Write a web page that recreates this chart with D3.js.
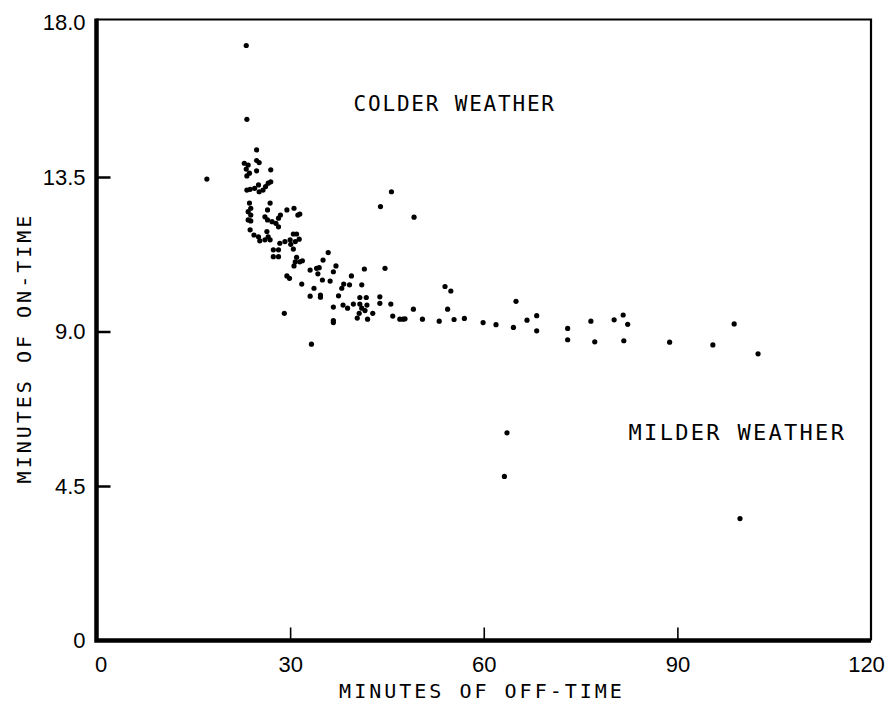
<!DOCTYPE html>
<html>
<head>
<meta charset="utf-8">
<script src="https://cdn.jsdelivr.net/npm/d3@7"></script>
<style>
  body { margin: 0; background: #fff; }
  svg { display: block; }
</style>
</head>
<body>
<script>
// minutes of off-time (x) and on-time (y)
var offTime = [
  17.1, 23.2, 23.3, 24.8, 22.9, 23.5, 24.8, 25.2, 23.2, 24.8,
  27.0, 23.7, 23.3, 23.3, 23.8, 24.5, 25.1, 25.8, 26.2, 26.6,
  27.0, 25.2, 23.7, 23.9, 23.5, 23.9, 23.5, 23.9, 26.9, 26.5,
  26.1, 26.5, 27.2, 28.2, 28.5, 29.5, 30.6, 31.5, 31.2, 27.8,
  28.2, 23.8, 24.4, 25.1, 25.3, 26.4, 26.6, 26.1, 26.9, 28.4,
  29.2, 30.0, 30.5, 31.0, 31.4, 30.1, 30.8, 30.5, 27.4, 28.2,
  27.4, 28.2, 31.0, 30.8, 31.5, 30.6, 31.9, 35.9, 35.1, 29.5,
  29.9, 31.8, 33.1, 34.1, 34.5, 34.3, 33.7, 35.0, 36.2, 37.1,
  36.7, 33.1, 34.7, 34.7, 37.5, 38.0, 38.3, 39.2, 39.5, 41.5,
  41.1, 36.7, 36.7, 36.7, 38.2, 38.9, 39.8, 40.8, 41.8, 40.8,
  41.9, 41.1, 40.7, 41.6, 42.8, 40.4, 42.0, 43.9, 43.9, 29.1,
  33.3, 44.7, 45.6, 45.9, 47.0, 47.5, 47.8, 49.1, 50.5, 53.1,
  54.0, 54.9, 54.4, 55.4, 57.0, 59.9, 61.9, 64.6, 65.0, 66.7,
  68.2, 68.2, 73.0, 73.0, 76.6, 77.2, 80.2, 81.6, 82.3, 81.7,
  88.8, 95.5, 98.8, 102.5, 99.7, 63.6, 63.2, 44.0, 45.7, 49.2
];
var onTime = [
  13.44, 17.33, 15.18, 14.29, 13.90, 13.85, 13.98, 13.92, 13.73, 13.68,
  13.71, 13.61, 13.53, 13.12, 13.14, 13.17, 13.27, 13.12, 13.22, 13.32,
  13.36, 13.07, 12.74, 12.59, 12.49, 12.39, 12.25, 12.22, 12.74, 12.54,
  12.34, 12.25, 12.20, 12.30, 12.39, 12.54, 12.59, 12.42, 12.39, 12.15,
  12.05, 11.96, 11.81, 11.76, 11.64, 11.91, 11.76, 11.67, 11.67, 11.57,
  11.62, 11.67, 11.84, 11.84, 11.69, 11.54, 11.62, 11.40, 11.38, 11.38,
  11.18, 11.18, 11.16, 11.03, 11.03, 10.91, 11.06, 11.30, 11.08, 10.62,
  10.55, 10.38, 10.79, 10.84, 10.86, 10.68, 10.26, 10.50, 10.47, 10.91,
  10.74, 10.03, 10.06, 10.00, 10.04, 10.26, 10.38, 10.36, 10.62, 10.82,
  10.36, 9.71, 9.32, 9.26, 9.77, 9.68, 9.80, 9.99, 9.99, 9.80,
  9.77, 9.68, 9.53, 9.61, 9.53, 9.39, 9.36, 10.01, 9.82, 9.53,
  8.63, 10.84, 9.80, 9.45, 9.36, 9.36, 9.37, 9.65, 9.36, 9.30,
  10.31, 10.18, 9.65, 9.35, 9.38, 9.26, 9.20, 9.12, 9.88, 9.33,
  9.46, 9.02, 9.09, 8.76, 9.30, 8.70, 9.34, 9.48, 9.21, 8.73,
  8.69, 8.61, 9.22, 8.35, 3.55, 6.05, 4.78, 12.64, 13.07, 12.33
];

var xTicks = [0, 30, 60, 90, 120];
var yTicks = [0, 4.5, 9, 13.5, 18];
var yTickLabels = ["0", "4.5", "9.0", "13.5", "18.0"];
var noteText = ["COLDER WEATHER", "MILDER WEATHER"];
var noteX = [55.5, 99.3];
var noteY = [15.65, 6.08];

const width = 895;
const height = 716;

const svg = d3.select("body")
  .append("svg")
  .attr("width", width)
  .attr("height", height);

const x = d3.scaleLinear().domain([0, 120]).range([96.5, 871]);
const y = d3.scaleLinear().domain([0, 18]).range([640.5, 22.5]);

const mono = "'DejaVu Sans Mono', 'Liberation Mono', monospace";
const sans = "'Liberation Sans', 'DejaVu Sans', sans-serif";

// thin top and right border
svg.append("path")
  .attr("d", "M" + x(0) + "," + (y(18) - 3) + "H" + x(120) + "V" + y(0))
  .attr("fill", "none")
  .attr("stroke", "#000")
  .attr("stroke-width", 2.2);

// y axis
const yAxis = svg.append("g")
  .attr("transform", "translate(" + x(0) + ",0)")
  .call(d3.axisLeft(y)
    .tickValues(yTicks)
    .tickSize(-14)
    .tickPadding(11)
    .tickFormat(function(d, i) { return yTickLabels[i]; }));
yAxis.select(".domain").remove();
yAxis.selectAll(".tick line")
  .attr("stroke-width", 2.5)
  .attr("display", function(d) { return (d === 0 || d === 18) ? "none" : null; });
yAxis.selectAll(".tick text")
  .attr("fill", "#000")
  .style("font-family", sans)
  .style("font-size", "22px");

// x axis
const xAxis = svg.append("g")
  .attr("transform", "translate(0," + y(0) + ")")
  .call(d3.axisBottom(x)
    .tickValues(xTicks)
    .tickSize(-13)
    .tickPadding(16)
    .tickFormat(d3.format("d")));
xAxis.select(".domain").remove();
xAxis.selectAll(".tick line")
  .attr("stroke-width", 1.6)
  .attr("display", function(d) { return (d === 0 || d === 120) ? "none" : null; });
xAxis.selectAll(".tick text")
  .attr("fill", "#000")
  .attr("dx", function(d) { return d === 0 ? 4 : (d === 120 ? -5 : 0); })
  .style("font-family", sans)
  .style("font-size", "22px");

// thick left and bottom axis lines
svg.append("path")
  .attr("d", "M" + x(0) + "," + (y(18) - 4) + "V" + y(0) + "H" + x(120))
  .attr("fill", "none")
  .attr("stroke", "#000")
  .attr("stroke-width", 4.5);

// points
svg.selectAll("circle.pt")
  .data(d3.range(offTime.length))
  .enter()
  .append("circle")
  .attr("class", "pt")
  .attr("cx", function(i) { return x(offTime[i]); })
  .attr("cy", function(i) { return y(onTime[i]); })
  .attr("r", 2.6)
  .attr("fill", "#000");

// notes
svg.selectAll("text.note")
  .data(noteText)
  .enter()
  .append("text")
  .attr("class", "note")
  .attr("x", function(d, i) { return x(noteX[i]); })
  .attr("y", function(d, i) { return y(noteY[i]); })
  .attr("text-anchor", "middle")
  .attr("dy", "0.36em")
  .style("font-family", mono)
  .style("font-size", function(d, i) { return i === 0 ? "21px" : "22px"; })
  .style("letter-spacing", function(d, i) { return i === 0 ? "1.8px" : "2.3px"; })
  .text(function(d) { return d; });

// axis titles
svg.append("text")
  .attr("x", 482)
  .attr("y", 698)
  .attr("text-anchor", "middle")
  .style("font-family", mono)
  .style("font-size", "20px")
  .style("letter-spacing", "3px")
  .text("MINUTES OF OFF-TIME");

svg.append("text")
  .attr("transform", "translate(31,348) rotate(-90)")
  .attr("text-anchor", "middle")
  .style("font-family", mono)
  .style("font-size", "20px")
  .style("letter-spacing", "3px")
  .text("MINUTES OF ON-TIME");
</script>
</body>
</html>
